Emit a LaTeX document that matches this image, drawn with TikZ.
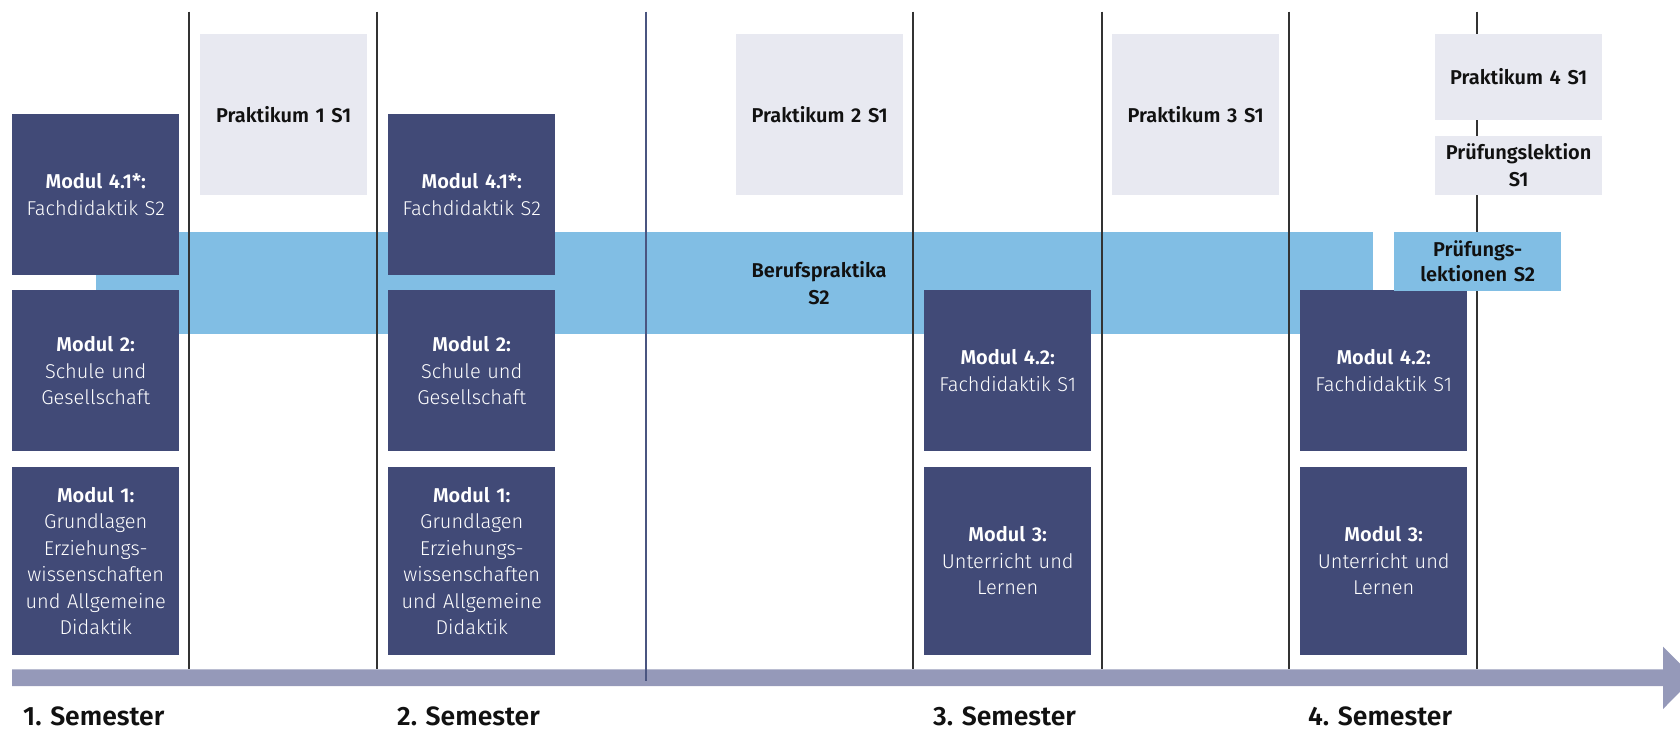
\documentclass[tikz,border=0pt]{standalone}
\usepackage{fontspec}
\setmainfont{Fira Sans}
\IfFontExistsTF{Fira Sans Light}{\newfontfamily\ltf{Fira Sans Light}}{\newcommand\ltf{\mdseries}}
\IfFontExistsTF{Fira Sans SemiBold}{\newfontfamily\bdf{Fira Sans SemiBold}}{\newcommand\bdf{\bfseries}}
\definecolor{darkc}{HTML}{414A77}
\definecolor{lightc}{HTML}{E8E9F1}
\definecolor{bandc}{HTML}{81BEE4}
\definecolor{arrowc}{HTML}{9599B9}
\definecolor{linec}{HTML}{333333}
\definecolor{linecb}{HTML}{4A5580}
\definecolor{txtc}{HTML}{111111}
\begin{document}
\begin{tikzpicture}[x=1pt,y=-1pt,
  dbox/.style={fill=darkc,text=white,inner sep=0pt,anchor=north west,
    minimum width=167pt,text width=167pt,align=center,
    font={\ltf\fontsize{20}{26.5}\selectfont}},
  lbox/.style={fill=lightc,text=txtc,inner sep=0pt,anchor=north west,
    minimum width=167pt,text width=167pt,align=center,
    font={\bdf\fontsize{20}{26.5}\selectfont}},
  bbox/.style={fill=bandc,text=txtc,inner sep=0pt,anchor=north west,
    minimum width=167pt,text width=167pt,align=center,
    font={\bdf\fontsize{20}{25}\selectfont}},
  vline/.style={draw=linec,line width=1.3pt},
  sem/.style={anchor=base west,inner sep=0pt,text=txtc,
    font={\bdf\fontsize{26.5}{30}\selectfont}}]
\useasboundingbox (0,0) rectangle (1680,731);
\clip (0,0) rectangle (1680,731);
% band
\node[fill=bandc,inner sep=0pt,anchor=north west,minimum width=1277pt,minimum height=101.7pt] (band) at (96,232) {};
\node[align=center,text=txtc,inner sep=0pt,font={\bdf\fontsize{20}{26.5}\selectfont}] (bp) at (819,283) {Berufspraktika\\S2};
% arrow
\fill[arrowc] (12,669.3) -- (1663,669.3) -- (1663,646.7) -- (1694,677.7) -- (1663,709) -- (1663,686) -- (12,686) -- cycle;
% vertical lines
\foreach \xx in {189,377,913,1102,1289,1477} \draw[vline] (\xx,11.7) -- (\xx,669.3);
\draw[vline,draw=linecb] (646,11.7) -- (646,681);
% column 1
\node[dbox,minimum height=160.5pt] (m41a) at (12,114) {{\bdf Modul 4.1*:}\\Fachdidaktik S2};
\node[dbox,minimum height=160.7pt] (m2a) at (12,290) {{\bdf Modul 2:}\\Schule und\\Gesellschaft};
\node[dbox,minimum height=187.3pt] (m1a) at (12,467) {{\bdf Modul 1:}\\Grundlagen\\Erziehungs-\\wissenschaften\\und Allgemeine\\Didaktik};
% column 2
\node[dbox,minimum height=160.5pt] (m41b) at (388,114) {{\bdf Modul 4.1*:}\\Fachdidaktik S2};
\node[dbox,minimum height=160.7pt] (m2b) at (388,290) {{\bdf Modul 2:}\\Schule und\\Gesellschaft};
\node[dbox,minimum height=187.3pt] (m1b) at (388,467) {{\bdf Modul 1:}\\Grundlagen\\Erziehungs-\\wissenschaften\\und Allgemeine\\Didaktik};
% column 3
\node[dbox,minimum height=160.7pt] (m42a) at (924,290) {{\bdf Modul 4.2:}\\Fachdidaktik S1};
\node[dbox,minimum height=187.3pt] (m3a) at (924,467) {{\bdf Modul 3:}\\Unterricht und\\Lernen};
% column 4
\node[dbox,minimum height=160.7pt] (m42b) at (1300,290) {{\bdf Modul 4.2:}\\Fachdidaktik S1};
\node[dbox,minimum height=187.3pt] (m3b) at (1300,467) {{\bdf Modul 3:}\\Unterricht und\\Lernen};
% praktika
\node[lbox,minimum height=160.7pt] (p1) at (200,34) {Praktikum 1 S1};
\node[lbox,minimum height=160.7pt] (p2) at (736,34) {Praktikum 2 S1};
\node[lbox,minimum height=160.7pt] (p3) at (1112,34) {Praktikum 3 S1};
\node[lbox,minimum height=85.7pt] (p4) at (1435,34) {Praktikum 4 S1};
\node[lbox,minimum height=58.7pt,font={\bdf\fontsize{20}{27}\selectfont}] (pl1) at (1435,136) {Prüfungslektion\\S1};
\node[bbox,minimum height=58.7pt] (pl2) at (1394,232) {Prüfungs-\\lektionen S2};
% semester labels
\node[sem] (s1) at (23,725) {1. Semester};
\node[sem] (s2) at (397,725) {2. Semester};
\node[sem] (s3) at (933,725) {3. Semester};
\node[sem] (s4) at (1308,725) {4. Semester};
\end{tikzpicture}
\end{document}
